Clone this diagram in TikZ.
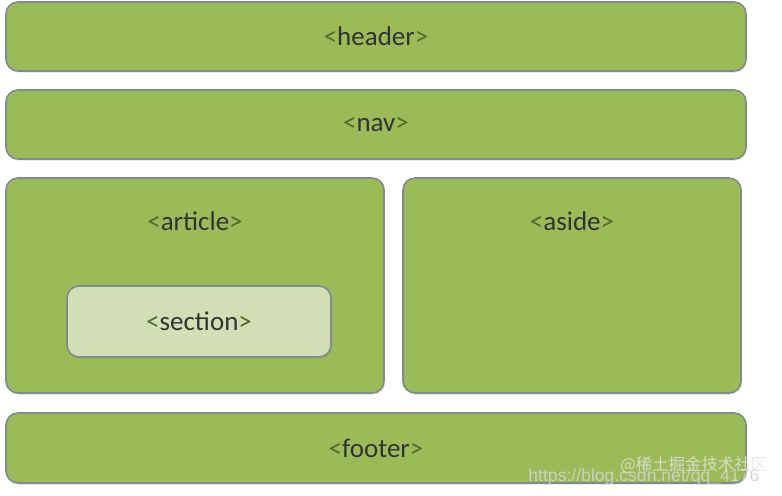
\documentclass[tikz,border=0pt]{standalone}
\usepackage{fontspec}
\setmainfont{Carlito}
\newfontfamily\cjk{Noto Sans CJK SC}
\newfontfamily\wmfont{Liberation Sans}
\usetikzlibrary{positioning}
\usetikzlibrary{shadows}
\definecolor{boxgreen}{HTML}{9BBB59}
\definecolor{boxline}{HTML}{7F8C8D}
\definecolor{lightgreen}{HTML}{D2DFB6}
\definecolor{tagtext}{HTML}{333333}
\definecolor{bracket}{HTML}{4F6B2A}
\newcommand{\htmltag}[1]{{\color{bracket}<}#1{\color{bracket}>}}
\tikzset{
    x=0.5pt, y=-0.5pt,
    every node/.append style={
        font=\fontsize{13.5}{15}\selectfont,
        text=tagtext
    },
    block/.style={
        draw=boxline,
        line width=0.8pt,
        fill=boxgreen,
        rounded corners=6pt,
        drop shadow={shadow xshift=0.6pt, shadow yshift=-0.8pt, opacity=0.25},
        inner sep=0pt
    },
    inner block/.style={
        block,
        fill=lightgreen
    },
    label node/.style={
        inner sep=0pt
    }
}
\begin{document}
\begin{tikzpicture}
    \useasboundingbox (0,0) rectangle (782,495);
    \node[block, minimum width=370pt, minimum height=34.5pt] (header) at (376,36.5) {\htmltag{header}};
    \node[block, minimum width=370pt, minimum height=34.5pt] (nav) at (376,124.5) {\htmltag{nav}};
    \node[block, minimum width=189pt, minimum height=107.5pt] (article) at (195,285.5) {};
    \node[block, minimum width=169pt, minimum height=107.5pt] (aside) at (572,285.5) {};
    \node[label node, below=22pt of article.north, anchor=center] (larticle) {\htmltag{article}};
    \node[label node, below=22pt of aside.north, anchor=center] (laside) {\htmltag{aside}};
    \node[inner block, minimum width=132pt, minimum height=35.5pt] (section) at (199,321.5) {\htmltag{section}};
    \node[block, minimum width=370pt, minimum height=35pt] (footer) at (376,448) {\htmltag{footer}};

    % watermark
    \node[label node, anchor=base west, text=white!82!black, opacity=0.9,
        font=\wmfont\fontsize{8.8}{10}\selectfont] (wmurl) at (528,481) {https://blog.csdn.net/qq\_4176};
    \node[label node, anchor=base west, text=white!80!gray, opacity=0.8,
        font=\cjk\fontsize{8.2}{10}\selectfont] (wmcjk) at (620,470) {@稀土掘金技术社区};
\end{tikzpicture}
\end{document}
